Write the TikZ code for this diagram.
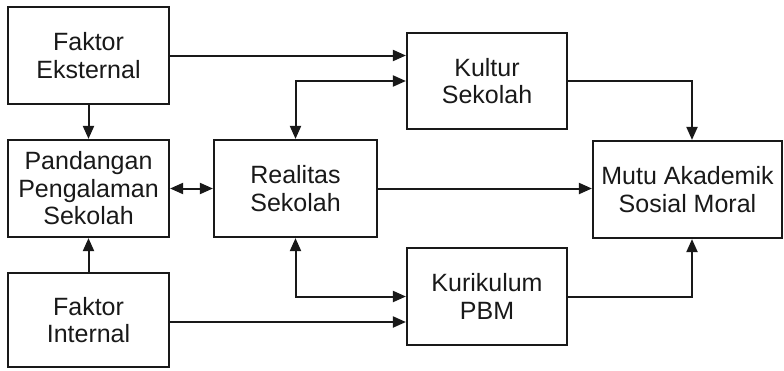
\documentclass[tikz,border=0pt]{standalone}
\usepackage{fontspec}
\setmainfont{Liberation Sans}
\usetikzlibrary{arrows.meta,calc}
\begin{document}
\begin{tikzpicture}[x=1pt,y=-1pt,
  box/.style={draw=black!90,line width=2.2pt,rectangle,inner sep=0pt,align=center,
    font=\fontsize{25}{27.5}\selectfont,text=black!90},
  conn/.style={draw=black!90,line width=2pt,-{Triangle[length=13pt,width=11pt]}},
  bconn/.style={draw=black!90,line width=2pt,{Triangle[length=13pt,width=11pt]}-{Triangle[length=13pt,width=11pt]}}]
\useasboundingbox (0,0) rectangle (784,370);
\node[box,minimum width=161pt,minimum height=97pt] (fe) at (88.5,55.5) {Faktor\\Eksternal};
\node[box,minimum width=161pt,minimum height=97pt] (pand) at (88.5,188.5) {Pandangan\\Pengalaman\\Sekolah};
\node[box,minimum width=161pt,minimum height=94pt] (fi) at (88.5,320) {Faktor\\Internal};
\node[box,minimum width=163pt,minimum height=97pt] (real) at (295.5,188.5) {Realitas\\Sekolah};
\node[box,minimum width=160pt,minimum height=96pt] (kult) at (487,81) {Kultur\\Sekolah};
\node[box,minimum width=160pt,minimum height=97pt] (kur) at (487,296.5) {Kurikulum\\PBM};
\node[box,minimum width=189pt,minimum height=97pt] (mutu) at (687.5,189.5) {Mutu Akademik\\Sosial Moral};
\coordinate (mtop) at ($(mutu.north)+(4.5,0)$);
\coordinate (mbot) at ($(mutu.south)+(4.5,0)$);
\draw[conn] (fe.east) -- (fe.east -| kult.west);
\draw[bconn] (real.north) |- (kult.west);
\draw[conn] (fe.south) -- (pand.north);
\draw[conn] (fi.north) -- (pand.south);
\draw[bconn] (pand.east) -- (real.west);
\draw[conn] (real.east) -- (real.east -| mutu.west);
\draw[bconn] (real.south) |- (kur.west);
\draw[conn] ($(fi.east)+(0,2)$) -- ($(fi.east -| kur.west)+(0,2)$);
\draw[conn] (kult.east) -| (mtop);
\draw[conn] (kur.east) -| (mbot);
\end{tikzpicture}
\end{document}
